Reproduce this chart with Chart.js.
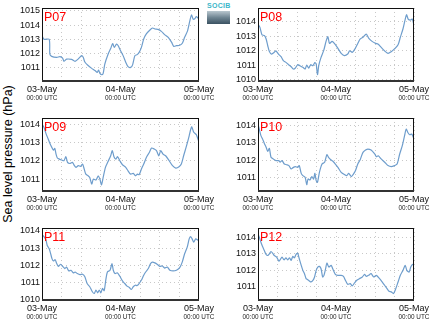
<!DOCTYPE html>
<html><head><meta charset="utf-8">
<script src="https://cdn.jsdelivr.net/npm/chart.js@4"></script>
<style>
html,body{margin:0;padding:0;background:#fff;}
#wrap{position:relative;width:434px;height:327px;overflow:hidden;background:#fff;}
#wrap canvas{position:absolute;}
#ytitle{position:absolute;left:8px;top:154px;transform:translate(-50%,-50%) rotate(-90deg);white-space:nowrap;font:12.5px "Liberation Sans",Arial,sans-serif;color:#000;}
#logo{position:absolute;left:207px;top:2px;width:23px;}
#logo .lt{font:bold 7px "Liberation Sans",Arial,sans-serif;color:#3cb6c9;text-align:center;line-height:8px;letter-spacing:0.3px;}
#logo .lb{margin-top:1px;height:13px;background:linear-gradient(#b9c7cf,#6f8592 50%,#3a5261);}
</style></head><body>
<div id="wrap">
  <div id="ytitle">Sea level pressure (hPa)</div>
  <div id="logo"><div class="lt">SOCIB</div><div class="lb"></div></div>
</div>
<script>
// ---- data (hours since 03-May 00:00 UTC, sea level pressure in hPa) ----
const stations = ['P07','P08','P09','P10','P11','P12'];
const dayLabels = ['03-May','04-May','05-May'];
const timeLabel = '00:00 UTC';

const hoursP07 = [0,0.6,2.2,2.4,2.95,4.5,5.5,6.3,6.7,7.5,9.05,10.1,11.1,12.1,12.6,13.1,14.1,15.2,16.2,16.9,17.3,17.7,18.3,18.7,19.2,20.2,21.0,21.6,22.1,22.8,23.3,23.8,24.8,25.6,26.3,27.1,27.7,28.4,29.1,29.7,30.4,31.1,31.9,33.0,33.8,34.5,35.5,36.5,37.5,38.6,39.6,40.3,41.1,42.1,42.9,43.6,44.5,45.2,45.7,46.2,46.7,47.2,48.0];
const pressureP07 = [1013.26,1013.0,1013.0,1011.95,1011.8,1011.73,1011.78,1011.68,1011.45,1011.6,1011.58,1011.45,1011.62,1011.85,1011.73,1011.4,1011.15,1010.95,1010.8,1010.67,1010.83,1010.6,1010.5,1010.6,1011.25,1011.95,1012.35,1012.7,1012.43,1012.67,1012.55,1012.3,1011.85,1011.38,1011.07,1011.02,1011.2,1011.85,1011.92,1012.08,1012.43,1013.02,1013.38,1013.66,1013.8,1013.73,1013.7,1013.56,1013.33,1013.14,1012.8,1012.5,1012.55,1012.58,1012.72,1013.14,1013.6,1014.3,1014.72,1014.43,1014.45,1014.6,1014.43];

const hoursP08 = [0,0.6,1.2,2.0,2.5,3.0,3.5,4.2,5.0,5.5,6.3,7.1,7.8,8.6,9.4,10.2,10.9,11.5,12.2,12.9,13.8,14.5,15.0,15.6,16.2,16.9,17.5,17.9,18.3,18.7,19.4,20.2,21.0,21.5,22.0,22.8,23.5,24.6,25.6,26.6,27.6,28.2,29.0,29.7,30.7,31.4,32.3,33.3,34.1,35.1,36.2,36.9,37.9,38.9,40.0,41.0,42.0,43.1,43.8,44.6,45.2,45.7,46.2,46.9,47.5,48.0];
const pressureP08 = [1013.84,1013.61,1013.11,1013.04,1012.81,1012.35,1011.96,1011.78,1011.9,1012.0,1011.78,1011.6,1011.33,1011.21,1011.05,1010.91,1010.75,1010.82,1011.05,1010.98,1010.87,1010.75,1011.03,1010.82,1011.05,1010.98,1011.19,1011.1,1010.37,1011.0,1011.55,1012.01,1012.7,1012.97,1012.51,1012.65,1012.51,1012.17,1011.83,1011.67,1011.78,1012.0,1011.9,1012.08,1012.51,1012.81,1012.93,1013.15,1012.86,1012.65,1012.51,1012.47,1012.24,1012.01,1011.83,1011.94,1012.13,1012.42,1012.93,1013.5,1014.07,1014.48,1014.18,1014.11,1014.18,1013.73];

const hoursP09 = [0,0.6,1.2,1.9,2.4,3.0,3.5,3.9,4.3,4.7,5.3,6.0,6.7,7.3,7.8,8.5,9.3,9.9,10.4,11.1,11.8,12.4,12.9,13.4,14.1,14.6,15.2,15.7,16.5,17.2,17.7,18.2,18.7,19.4,20.2,21.0,21.5,22.0,22.6,23.1,23.8,24.6,25.6,26.3,27.1,27.9,28.6,29.2,29.7,30.4,31.1,31.9,32.8,33.5,34.3,35.0,35.7,36.3,37.0,37.8,38.9,39.9,40.9,41.9,42.6,43.3,44.2,45.0,45.5,45.8,46.4,47.2,48.0];
const pressureP09 = [1014.0,1013.82,1013.49,1013.18,1012.95,1012.73,1012.58,1012.67,1012.36,1012.15,1012.09,1012.04,1012.0,1012.22,1011.91,1011.85,1011.91,1011.73,1011.64,1011.73,1011.69,1011.82,1011.55,1011.27,1011.18,1011.09,1010.73,1011.0,1010.95,1011.18,1011.0,1010.69,1011.09,1011.64,1011.96,1012.27,1012.55,1012.22,1012.09,1012.22,1012.0,1011.78,1011.64,1011.45,1011.27,1011.31,1011.18,1011.27,1011.24,1011.55,1011.82,1012.18,1012.45,1012.69,1012.64,1012.55,1012.27,1012.55,1012.36,1012.27,1012.0,1011.73,1011.6,1011.67,1011.82,1012.27,1012.82,1013.36,1013.73,1013.85,1013.55,1013.42,1013.0];

const hoursP10 = [0,0.4,0.9,1.4,1.95,2.5,3.0,3.5,4.0,4.7,5.55,6.4,6.8,7.4,8.1,8.8,9.5,10.2,10.9,11.5,12.2,12.7,13.3,13.8,14.5,15.0,15.4,16.0,16.6,17.1,17.5,17.9,18.3,18.9,19.7,20.5,21.2,21.7,22.5,23.2,23.8,24.6,25.6,26.6,27.3,27.9,28.7,29.4,30.0,30.7,31.4,32.3,33.1,33.8,34.8,35.9,36.4,37.0,37.9,39.0,40.0,41.0,42.0,42.8,43.6,44.4,45.1,45.6,46.1,46.7,47.3,48.0];
const pressureP10 = [1014.06,1013.77,1013.4,1013.21,1012.96,1012.74,1012.51,1012.68,1012.17,1012.08,1011.98,1011.98,1011.89,1011.98,1011.79,1011.75,1011.7,1011.51,1011.6,1011.64,1011.6,1011.7,1011.26,1011.13,1011.04,1010.62,1010.94,1010.89,1011.08,1010.94,1011.26,1010.85,1010.75,1011.32,1011.79,1011.89,1012.32,1012.17,1012.02,1011.92,1011.79,1011.6,1011.32,1011.19,1011.13,1011.26,1011.08,1011.23,1011.42,1011.79,1012.02,1012.45,1012.58,1012.64,1012.58,1012.36,1012.21,1012.26,1012.08,1011.89,1011.7,1011.64,1011.7,1011.79,1012.36,1012.83,1013.4,1013.77,1013.58,1013.45,1013.49,1013.21];

const hoursP11 = [0,0.6,1.2,1.6,2.2,2.6,3.05,3.5,4.0,4.5,5.0,5.7,6.3,7.0,7.5,8.2,8.85,9.6,10.1,10.8,11.6,12.4,13.1,13.8,14.6,15.4,16.0,16.5,17.0,17.5,18.0,18.5,19.0,19.5,20.0,20.8,21.4,21.8,22.3,23.0,23.8,24.6,25.3,26.0,26.7,27.3,27.9,28.5,29.1,29.7,30.4,31.1,31.7,32.5,33.2,33.8,34.5,35.2,36.0,36.8,37.5,38.3,39.1,40.1,41.1,42.1,42.9,43.6,44.4,45.0,45.4,45.9,46.4,47.0,47.5,48.0];
const pressureP11 = [1013.79,1013.67,1013.48,1013.15,1012.96,1012.71,1012.39,1012.25,1012.33,1012.1,1011.94,1012.06,1011.94,1011.81,1011.9,1011.67,1011.71,1011.56,1011.61,1011.52,1011.46,1011.48,1011.33,1010.94,1010.75,1010.46,1010.36,1010.56,1010.4,1010.56,1010.4,1010.65,1010.52,1011.14,1011.61,1011.71,1012.1,1011.71,1011.52,1011.56,1011.36,1011.09,1010.94,1010.79,1010.71,1010.59,1010.75,1010.84,1010.82,1010.94,1011.14,1011.42,1011.61,1011.81,1012.1,1012.18,1012.14,1012.06,1011.94,1011.96,1011.84,1011.9,1011.71,1011.67,1011.71,1011.86,1012.2,1012.67,1013.06,1013.54,1013.67,1013.54,1013.35,1013.54,1013.48,1013.4];

const hoursP12 = [0,0.4,0.9,1.4,1.95,2.5,3.0,3.5,4.0,4.5,5.0,5.75,6.4,6.8,7.4,8.0,8.6,9.1,9.7,10.2,10.7,11.2,11.7,12.2,12.7,13.3,13.8,14.3,14.8,15.3,15.8,16.3,16.9,17.4,17.9,18.4,18.9,19.4,19.9,20.3,20.8,21.2,21.8,22.5,23.0,23.8,24.6,25.6,26.3,26.9,27.6,28.4,29.0,29.7,30.4,31.2,32.1,32.8,33.3,34.0,34.8,35.6,36.4,37.4,38.2,38.95,39.7,40.3,41.0,41.7,42.3,43.1,43.8,44.6,45.3,45.8,46.5,47.0,47.5,48.0];
const pressureP12 = [1014.2,1014.0,1013.7,1013.44,1013.2,1012.96,1012.9,1013.0,1013.14,1013.04,1012.9,1012.8,1012.56,1012.64,1012.8,1012.64,1012.76,1012.64,1012.76,1012.6,1012.84,1012.76,1012.96,1013.04,1012.7,1012.3,1012.0,1011.8,1011.5,1011.44,1011.36,1011.3,1011.4,1011.6,1012.0,1012.2,1012.24,1012.1,1011.6,1011.7,1012.1,1012.44,1012.2,1012.3,1012.1,1011.76,1011.7,1011.7,1011.64,1011.4,1011.16,1011.2,1011.06,1011.24,1011.4,1011.5,1011.6,1011.76,1011.64,1011.7,1011.8,1011.6,1011.7,1011.5,1011.3,1011.1,1010.9,1010.74,1010.7,1010.6,1010.84,1011.3,1011.7,1012.0,1012.3,1012.0,1011.9,1012.2,1012.36,1012.3];

const seriesHours = [hoursP07,hoursP08,hoursP09,hoursP10,hoursP11,hoursP12];
const seriesPressure = [pressureP07,pressureP08,pressureP09,pressureP10,pressureP11,pressureP12];

// ---- layout of the six panels ----
const yLimits = [[1010.06,1015.21],[1009.93,1014.94],[1010.35,1014.33],[1010.26,1014.40],[1009.98,1014.17],[1010.21,1014.56]];
const panelBoxes = [
  {left:0,top:0,w:217,h:110,yw:42,pr:18,pb:5},
  {left:217,top:0,w:217,h:110,yw:41,pr:20,pb:5},
  {left:0,top:110,w:217,h:110,yw:42,pr:18,pb:5},
  {left:217,top:110,w:217,h:110,yw:41,pr:20,pb:5},
  {left:0,top:220,w:217,h:107,yw:42,pr:18,pb:3},
  {left:217,top:220,w:217,h:107,yw:41,pr:20,pb:3}
];
const FONT = '"Liberation Sans", Arial, sans-serif';

const panelDecor = {
  id: 'panelDecor',
  afterDraw(chart, args, opts) {
    const {ctx, chartArea: a, scales} = chart;
    ctx.save();
    ctx.strokeStyle = '#111';
    ctx.lineWidth = 1;
    ctx.strokeRect(Math.round(a.left) + 0.5, Math.round(a.top) + 0.5,
      Math.round(a.right) - Math.round(a.left) - 1, Math.round(a.bottom) - Math.round(a.top));
    ctx.strokeStyle = '#333';
    ctx.lineWidth = 2;
    ctx.beginPath();
    ctx.moveTo(a.left, Math.round(a.bottom));
    ctx.lineTo(a.right, Math.round(a.bottom));
    ctx.stroke();
    ctx.fillStyle = '#ff0000';
    ctx.font = '12.5px ' + FONT;
    ctx.textAlign = 'left';
    ctx.textBaseline = 'alphabetic';
    ctx.fillText(opts.title, a.left + 2, a.top + 12.5);
    ctx.fillStyle = '#222';
    ctx.font = '6.4px ' + FONT;
    ctx.textAlign = 'center';
    ctx.textBaseline = 'middle';
    scales.x.ticks.forEach(t => {
      if (t.value % 24 === 0) {
        ctx.fillText(timeLabel, scales.x.getPixelForValue(t.value), a.bottom + 17.7);
      }
    });
    ctx.restore();
  }
};

const wrap = document.getElementById('wrap');
stations.forEach((name, i) => {
  const b = panelBoxes[i];
  const cv = document.createElement('canvas');
  cv.width = b.w; cv.height = b.h;
  cv.style.left = b.left + 'px'; cv.style.top = b.top + 'px';
  cv.style.width = b.w + 'px'; cv.style.height = b.h + 'px';
  wrap.appendChild(cv);
  const pts = seriesHours[i].map((h, k) => ({x: h, y: seriesPressure[i][k]}));
  const [ymin, ymax] = yLimits[i];
  new Chart(cv.getContext('2d'), {
    type: 'line',
    data: { datasets: [{ label: name, data: pts, borderColor: '#6e9dcc', borderWidth: 1.2,
      pointRadius: 0, tension: 0.25, fill: false }] },
    options: {
      responsive: false, animation: false, devicePixelRatio: 1,
      layout: { padding: { left: 0, right: b.pr, top: 8, bottom: b.pb } },
      plugins: { legend: { display: false }, tooltip: { enabled: false }, panelDecor: { title: name } },
      scales: {
        x: {
          type: 'linear', min: 0, max: 48,
          afterBuildTicks: s => { const t = []; for (let v = 0; v <= 48; v += 6) t.push({value: v}); s.ticks = t; },
          afterFit: s => { s.height = 24; },
          ticks: { autoSkip: false, maxRotation: 0, padding: 3, color: '#111',
            font: { size: 9, family: FONT },
            callback: v => (v % 24 === 0 ? dayLabels[v / 24] : '') },
          grid: { color: '#c8c8c8', lineWidth: 1, drawTicks: false },
          border: { display: false, dash: [1, 3] }
        },
        y: {
          min: ymin, max: ymax,
          afterBuildTicks: s => { const t = []; for (let v = Math.ceil(ymin); v <= ymax; v++) t.push({value: v}); s.ticks = t; },
          afterFit: s => { s.width = b.yw; },
          ticks: { padding: 2, color: '#111', font: { size: 9, family: FONT },
            callback: v => String(v) },
          grid: { color: '#c8c8c8', lineWidth: 1, drawTicks: false },
          border: { display: false, dash: [1, 3] }
        }
      }
    },
    plugins: [panelDecor]
  });
});
</script>
</body></html>
